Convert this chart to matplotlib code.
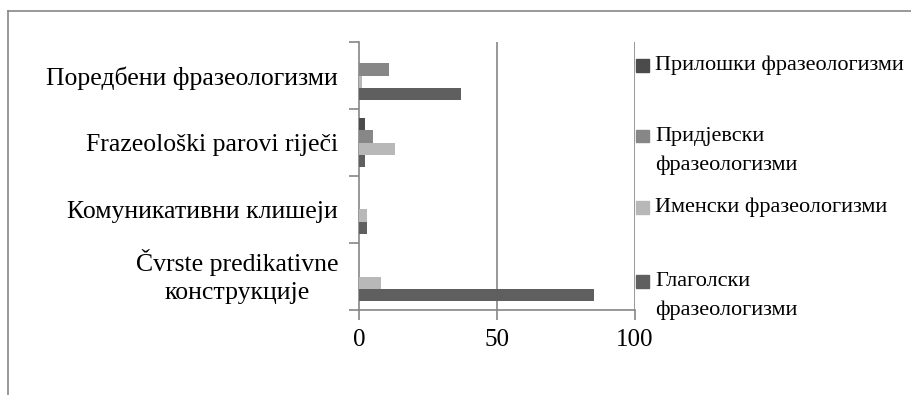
import matplotlib.pyplot as plt
import matplotlib.transforms as mtransforms
from matplotlib.lines import Line2D
from matplotlib.patches import Rectangle

plt.rcParams['font.family'] = ['Liberation Serif', 'DejaVu Serif']

categories = ['Čvrste predikativne\nконструкције', 'Комуникативни клишеји',
              'Frazeološki parovi riječi', 'Поредбени фразеологизми']
series_names = ['Глаголски\nфразеологизми', 'Именски фразеологизми',
                'Придјевски\nфразеологизми', 'Прилошки фразеологизми']
glagolski = [85, 3, 2, 37]
imenski = [8, 3, 13, 1]
pridjevski = [0, 0, 5, 11]
priloski = [0, 0, 2, 0]
x_ticks = [0, 50, 100]

values = [glagolski, imenski, pridjevski, priloski]
colors = ['#5f5f5f', '#b8b8b8', '#878787', '#4b4b4b']
grey = '#868686'
fs = 18
fs_y = 18.5
fs_leg = 16

W, H = 911, 395
fig = plt.figure(figsize=(W / 100, H / 100), dpi=100)
ax = fig.add_axes([359 / W, 1 - 310 / H, 276 / W, 268 / H])

h = 0.18
ypos = list(range(len(categories)))
for k, (vals, c) in enumerate(zip(values, colors)):
    off = (k - 1.5) * h
    ax.barh([y + off for y in ypos], vals, height=h, color=c, zorder=3)

ax.set_xlim(0, 100)
ax.set_ylim(-0.5, len(categories) - 0.5)
ax.set_xticks(x_ticks)
ax.set_xticklabels([str(t) for t in x_ticks], fontsize=fs)
ax.set_yticks(ypos)
ax.set_yticklabels(categories, fontsize=fs_y, multialignment='center', linespacing=1.3)
ax.set_yticks([y - 0.5 for y in ypos] + [len(categories) - 0.5], minor=True)
ax.tick_params(axis='y', which='major', length=0, pad=15)
ax.tick_params(axis='y', which='minor', length=7, width=1.2, color=grey)
ax.tick_params(axis='x', length=7, width=1.2, color=grey, pad=7)

# the two-line label sits a little higher in the original
lab = ax.get_yticklabels()[0]
lab.set_transform(lab.get_transform() +
                  mtransforms.ScaledTranslation(0, 5 / 100, fig.dpi_scale_trans))

for x in [50, 100]:
    ax.axvline(x, color=grey, lw=1.2, zorder=1)
for s in ['top', 'right']:
    ax.spines[s].set_visible(False)
for s in ['left', 'bottom']:
    ax.spines[s].set_color(grey)
    ax.spines[s].set_linewidth(1.2)

# legend drawn by hand so the swatch sits at the first line of wrapped names
leg_y = [281, 207, 136, 65]
line_step = 29
for name, c, y in zip(series_names, colors, leg_y):
    fig.add_artist(Rectangle((636 / W, 1 - (y + 6.5) / H), 13 / W, 13 / H,
                             color=c, transform=fig.transFigure))
    for i, part in enumerate(name.split('\n')):
        fig.text(655 / W, 1 - (y + i * line_step) / H, part, fontsize=fs_leg,
                 va='center', ha='left')

# chart frame
fig.add_artist(Line2D([8 / W, 1], [1 - 11 / H, 1 - 11 / H], color=grey, lw=1.2,
                      transform=fig.transFigure))
fig.add_artist(Line2D([8 / W, 8 / W], [0, 1 - 11 / H], color=grey, lw=1.2,
                      transform=fig.transFigure))

fig.savefig('out.png', dpi=100)
